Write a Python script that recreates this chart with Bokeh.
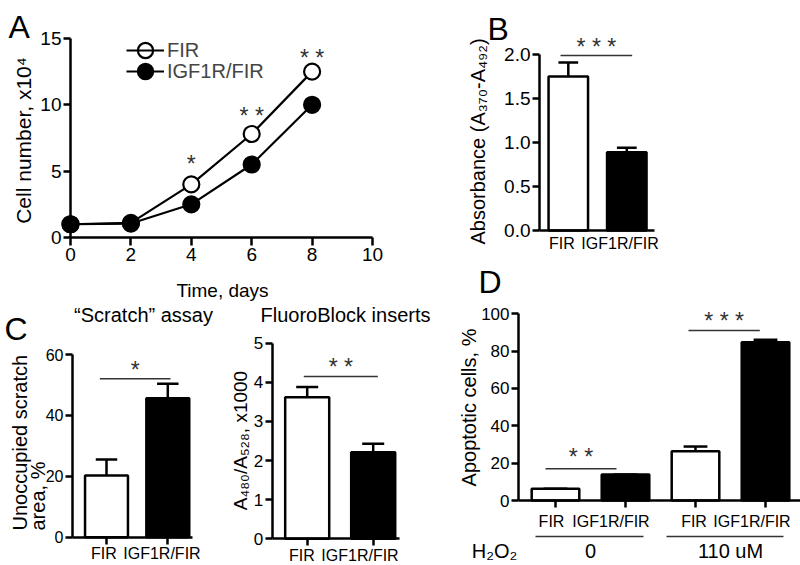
import math
from bokeh.plotting import figure
from bokeh.models import (Range1d, FixedTicker, NumeralTickFormatter, Label, Legend,
                          LegendItem, LinearAxis, ColumnDataSource)
from bokeh.embed import file_html
from bokeh.resources import INLINE

FONT = "Liberation Sans"

# ---------------- data ----------------
# Panel A: cell growth (x10^4 cells)
a_days = [0, 2, 4, 6, 8]
a_fir = [1.0, 1.1, 4.0, 7.8, 12.5]
a_igf = [1.0, 1.05, 2.5, 5.5, 10.0]
a_sig_days = [4, 6, 8]
a_sig_y = [5.95, 9.57, 13.94]
a_sig_text = ["*", "* *", "* *"]
a_xticks = [0, 2, 4, 6, 8, 10]
a_yticks = [0, 5, 10, 15]

# Panel B: absorbance
groups = ["FIR", "IGF1R/FIR"]
b_mean = [1.75, 0.89]
b_err = [0.16, 0.05]
b_yticks = [0.0, 0.5, 1.0, 1.5, 2.0]
b_sig_y = [1.99]
b_star_y = [2.14]
b_sig_text = ["* * *"]

# Panel C: "Scratch" assay
c1_mean = [20.3, 45.6]
c1_err = [5.2, 4.8]
c1_yticks = [0, 20, 40, 60]
c1_sig_y = [52.0]
c1_star_y = [56.4]
c1_sig_text = ["*"]

# Panel C: FluoroBlock inserts
c2_mean = [3.62, 2.21]
c2_err = [0.26, 0.22]
c2_yticks = [0, 1, 2, 3, 4, 5]
c2_sig_y = [4.15]
c2_star_y = [4.51]
c2_sig_text = ["* *"]

# Panel D: apoptosis
d_groups = ["FIR", "IGF1R/FIR", "FIR", "IGF1R/FIR"]
d_mean = [6.3, 13.9, 26.4, 84.8]
d_err = [0.0, 0.0, 2.5, 1.3]
d_fill = ["white", "black", "white", "black"]
d_yticks = [0, 20, 40, 60, 80, 100]
d_treatment = ["0", "110 uM"]
d_sig_y = [17.0, 91.1]
d_star_y = [25.9, 98.6]
d_sig_text = ["* *", "* * *"]

bar_fill = ["white", "black"]

# ---------------- canvas ----------------
W, H = 800, 565
p = figure(width=W, height=H, x_range=Range1d(0, W), y_range=Range1d(0, H),
           x_axis_location=None, y_axis_location=None,
           min_border_left=0, min_border_right=0, min_border_top=0, min_border_bottom=0,
           output_backend="svg", toolbar_location=None)
p.outline_line_color = None
p.grid.visible = False

xr, yr = {}, {}


def panel(name, xv, xpx, xk, yv, ypx, yk):
    """value xv sits xpx px from the left (xk px/unit); value yv sits ypx px from the top."""
    xs = xv - xpx / xk
    ys = yv - (H - ypx) / yk
    xr[name + "x"] = Range1d(xs, xs + W / xk)
    yr[name + "y"] = Range1d(ys, ys + H / yk)
    return dict(x_range_name=name + "x", y_range_name=name + "y")


rA = panel("a", 0, 70, 30.2, 0, 237, 13.27)
rB = panel("b", 1, 567.8, 58.5, 0, 230, 88.0)
rC1 = panel("c", 1, 106, 61.3, 0, 536.7, 3.045)
rC2 = panel("f", 1, 306.7, 66.0, 0, 538.3, 39.12)
rD = panel("d", 1, 555, 70.0, 0, 500, 1.867)
p.extra_x_ranges = xr
p.extra_y_ranges = yr


def style_axis(ax, size, tick_out, standoff):
    ax.axis_line_width = 2.5
    ax.axis_line_color = "black"
    ax.major_tick_line_width = 2.5
    ax.major_tick_line_color = "black"
    ax.major_tick_in = 0
    ax.major_tick_out = tick_out
    ax.minor_tick_in = 0
    ax.minor_tick_out = 0
    ax.major_label_text_font = FONT
    ax.major_label_text_font_size = f"{size}px"
    ax.major_label_text_color = "black"
    ax.major_label_standoff = standoff


def y_axis(r, ticks, x_at, size, fmt=None):
    ax = LinearAxis(fixed_location=x_at, bounds=(ticks[0], ticks[-1]),
                    ticker=FixedTicker(ticks=ticks), **r)
    style_axis(ax, size, 7, 2)
    if fmt:
        ax.formatter = NumeralTickFormatter(format=fmt)
    p.add_layout(ax, "left")


def x_axis(r, ticks, bounds, size=16, tick_out=7, standoff=2, labels=None):
    ax = LinearAxis(fixed_location=0, bounds=bounds, ticker=FixedTicker(ticks=ticks), **r)
    style_axis(ax, size, tick_out, standoff)
    if labels is None:
        ax.major_label_text_color = None
    elif labels != "numeric":
        ax.major_label_overrides = {t: l for t, l in zip(ticks, labels)}
    p.add_layout(ax, "below")
    return ax


def label_axis(r, positions, labels, standoff):
    ax = LinearAxis(fixed_location=0, ticker=FixedTicker(ticks=positions), **r)
    style_axis(ax, 16, 0, standoff)
    ax.axis_line_color = None
    ax.major_tick_line_color = None
    ax.major_label_overrides = {t: l for t, l in zip(positions, labels)}
    p.add_layout(ax, "below")


def draw_bars(r, xs, means, errs, fills, width):
    tops = [m + e for m, e in zip(means, errs)]
    cap = width / 2
    src = ColumnDataSource(dict(x=xs, top=means, etop=tops, fill=fills,
                                cl=[x - cap / 2 for x in xs], cr=[x + cap / 2 for x in xs]))
    p.segment(x0="x", y0="top", x1="x", y1="etop", source=src, line_color="black",
              line_width=2.5, **r)
    p.segment(x0="cl", y0="etop", x1="cr", y1="etop", source=src, line_color="black",
              line_width=2.5, **r)
    p.vbar(x="x", top="top", bottom=0, width=width, fill_color="fill", line_color="black",
           line_width=2.5, source=src, **r)


def stars(r, xs, ys, texts):
    p.text(x=xs, y=ys, text=texts, text_font={"value": FONT}, text_font_size={"value": "23px"},
           text_align="center", text_baseline="middle", y_offset=5, text_color="#333333", **r)


def draw_sig(r, x0, x1, ys, star_y, texts):
    p.segment(x0=x0, y0=ys, x1=x1, y1=ys, line_color="#333333", line_width=1.5, **r)
    stars(r, [(a + b) / 2 for a, b in zip(x0, x1)], star_y, texts)


def text_label(px, py, text, size, angle=0.0, align="center", baseline="middle"):
    p.add_layout(Label(x=px, y=H - py, text=text, angle=angle, text_align=align,
                       text_baseline=baseline, text_font=FONT, text_font_size=f"{size}px",
                       text_color="black"))


# ---------------- Panel A ----------------
y_axis(rA, a_yticks, 0, 19)
x_axis(rA, a_xticks, (a_xticks[0], a_xticks[-1]), size=19, tick_out=8, standoff=2,
       labels="numeric")
l1 = p.line(a_days, a_fir, line_color="black", line_width=2.2, **rA)
l2 = p.line(a_days, a_igf, line_color="black", line_width=2.2, **rA)
s1 = p.scatter(a_days, a_fir, marker="circle", size=16, fill_color="white",
               line_color="black", line_width=2.2, **rA)
s2 = p.scatter(a_days, a_igf, marker="circle", size=16, fill_color="black",
               line_color="black", line_width=2.2, **rA)
stars(rA, a_sig_days, a_sig_y, a_sig_text)
for lab, rends, loc in [("FIR", [s1, l1], (126, 496)), ("IGF1R/FIR", [s2, l2], (126, 475))]:
    p.add_layout(Legend(items=[LegendItem(label=lab, renderers=rends)], location=loc,
                        border_line_color=None, background_fill_alpha=0, padding=0, margin=0,
                        spacing=0, glyph_width=38, glyph_height=38, label_standoff=3,
                        label_height=20, label_text_font=FONT, label_text_font_size="20px",
                        label_text_baseline="middle"))
text_label(8, 26, "A", 32, align="left", baseline="alphabetic")
text_label(222, 290, "Time, days", 19)
text_label(23, 140, "Cell number, x10⁴", 21, angle=math.pi / 2)

# ---------------- Panel B ----------------
y_axis(rB, b_yticks, 0.508, 19, fmt="0.0")
x_axis(rB, [], (0.508, 2.473), tick_out=0)
label_axis(rB, [0.892, 1.884], groups, 4)
draw_bars(rB, [1, 2], b_mean, b_err, bar_fill, 0.675)
draw_sig(rB, [0.867], [2.092], b_sig_y, b_star_y, b_sig_text)
text_label(487, 28, "B", 32, align="left", baseline="alphabetic")
text_label(477, 141, "Absorbance (A₃₇₀-A₄₉₂)", 20, angle=math.pi / 2)

# ---------------- Panel C (scratch) ----------------
y_axis(rC1, c1_yticks, 0.4454, 16)
x_axis(rC1, [1, 2], (0.4454, 2.403))
label_axis(rC1, [0.959, 1.905], groups, 8)
draw_bars(rC1, [1, 2], c1_mean, c1_err, bar_fill, 0.70)
draw_sig(rC1, [0.891], [2.044], c1_sig_y, c1_star_y, c1_sig_text)
text_label(4, 328, "C", 32, align="left", baseline="alphabetic")
text_label(143, 314, "“Scratch” assay", 20)
text_label(19, 530, "Unoccupied scratch", 20, angle=math.pi / 2, align="left")
text_label(37, 530, "area, %", 20, angle=math.pi / 2, align="left")

# ---------------- Panel C (FluoroBlock) ----------------
y_axis(rC2, c2_yticks, 0.470, 17)
x_axis(rC2, [1, 2], (0.470, 2.398))
label_axis(rC2, [0.921, 1.80], groups, 8)
draw_bars(rC2, [1, 2], c2_mean, c2_err, bar_fill, 0.667)
draw_sig(rC2, [0.948], [2.07], c2_sig_y, c2_star_y, c2_sig_text)
text_label(345, 314, "FluoroBlock inserts", 20)
text_label(240, 440, "A₄₈₀/A₅₂₈, x1000", 19, angle=math.pi / 2)

# ---------------- Panel D ----------------
y_axis(rD, d_yticks, 0.4714, 17)
x_axis(rD, [1, 2, 3, 4], (0.4714, 4.5))
label_axis(rD, [0.943, 1.793, 2.979, 3.807], d_groups, 12)
draw_bars(rD, [1, 2, 3, 4], d_mean, d_err, d_fill, 0.68)
draw_sig(rD, [0.857, 2.90], [1.871, 3.919], d_sig_y, d_star_y, d_sig_text)
group_x0 = [0.714, 2.586]
group_x1 = [2.257, 4.257]
group_y = [-19.3, -19.3]
p.segment(x0=group_x0, y0=group_y, x1=group_x1, y1=group_y, line_color="#333333",
          line_width=1.5, **rD)
p.text(x=[(a + b) / 2 for a, b in zip([1, 3], [2, 4])], y=[-26.8, -26.8],
       text=d_treatment, text_font={"value": FONT}, text_font_size={"value": "20px"},
       text_align="center", text_baseline="middle", text_color="black", **rD)
text_label(494, 550, "H₂O₂", 20)
text_label(478, 281, "D", 32, align="left", baseline="alphabetic")
text_label(468, 407, "Apoptotic cells, %", 20, angle=math.pi / 2)

open("out.html", "w").write(file_html(p, INLINE, title="IGF1R/FIR figure"))
